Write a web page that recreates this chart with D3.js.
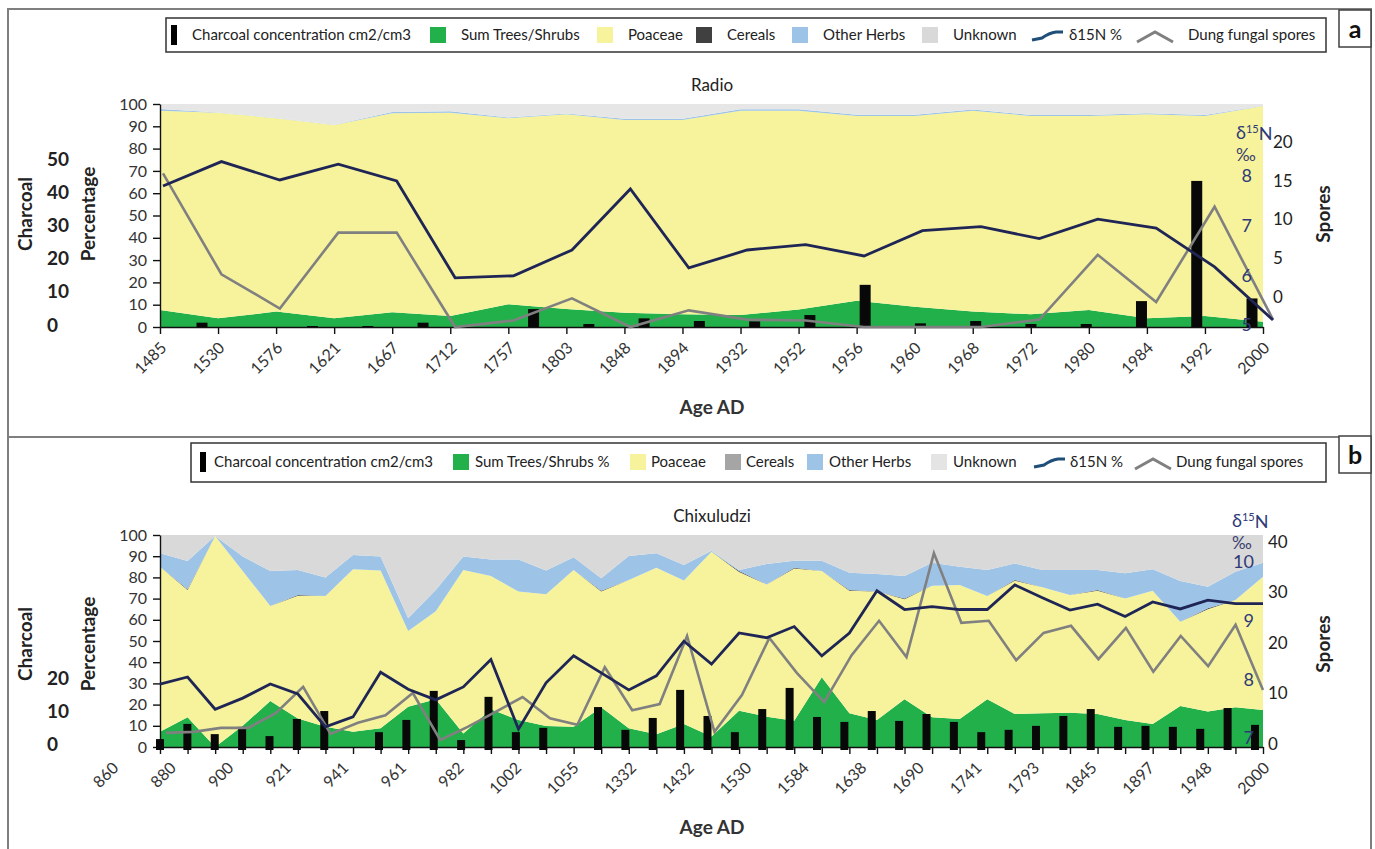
<!DOCTYPE html>
<html>
<head>
<meta charset="utf-8">
<script src="https://cdnjs.cloudflare.com/ajax/libs/d3/7.8.5/d3.min.js"></script>
<style>
body { margin: 0; background: #fff; }
svg { display: block; }
</style>
</head>
<body>
<script>
// ---------- panel a : Radio ----------
var radioAges = ["1485","1530","1576","1621","1667","1712","1757","1803","1848","1894","1932","1952","1956","1960","1968","1972","1980","1984","1992","2000"];
var radioTrees   = [7.6,3.9,6.9,3.9,6.6,4.9,10.2,8.1,6.4,5.7,5.4,7.9,11.8,9.1,6.9,5.7,7.6,3.9,4.9,2.4];
var radioPoaceae = [89.4,92.2,86.7,86.7,89.2,91.2,83.4,87.3,86.4,87.1,91.6,89.1,82.8,85.5,90.1,88.9,87.0,91.5,89.7,96.7];
var radioCereals = [0,0,0,0,0,0,0,0,0,0,0,0,0,0,0,0,0,0,0,0];
var radioHerbs   = [0.8,0.1,0.1,0.1,0.6,0.6,0.3,0.3,0.6,0.6,0.6,0.6,0.6,0.6,0.5,0.5,0.5,0.5,0.5,0.1];
var radioUnknown = [2.2,3.8,6.3,9.3,3.6,3.3,6.1,4.3,6.6,6.6,2.4,2.4,4.8,4.8,2.5,4.9,4.9,4.1,4.9,0.8];
var radioCharcoal = [1.3,0,0.3,0.3,1.3,0,5.4,0.9,2.6,1.8,1.7,3.6,12.7,1.1,1.8,0.9,0.9,7.8,44.0,8.6];
var radioD15N   = [7.80,8.29,7.92,8.24,7.90,5.95,5.99,6.51,7.74,6.15,6.51,6.62,6.39,6.90,6.98,6.74,7.13,6.95,6.17,5.10];
var radioSpores = [16.6,5.7,2.0,10.2,10.2,0,0.7,3.1,0,1.8,0.8,0.7,0,0,0,0.8,7.8,2.7,13.0,0.8];

// ---------- panel b : Chixuludzi ----------
var chixAgeLabels = ["860","880","900","921","941","961","982","1002","1055","1332","1432","1530","1584","1638","1690","1741","1793","1845","1897","1948","2000"];
var chixTrees   = [7.2,14.0,0,10.0,21.7,13.5,9.6,7.2,8.8,19.0,22.5,6.4,17.8,12.7,9.9,9.6,18.7,8.8,6.0,10.8,4.9,17.1,14.3,12.4,32.9,15.9,12.7,22.5,14.0,13.2,22.5,15.6,15.9,16.2,15.6,12.7,10.8,19.3,16.7,18.7,17.5];
var chixPoaceae = [77.8,60.0,99.5,73.0,44.8,57.8,61.6,76.6,74.4,35.7,41.5,77.1,62.9,60.6,62.1,73.9,54.6,70.0,78.6,67.7,87.2,65.5,62.4,71.8,50.1,57.8,60.6,47.2,62.1,63.2,48.7,62.8,59.4,55.5,58.1,57.4,62.9,39.8,48.3,50.6,62.8];
var chixCereals = [0,0.4,0,0,0,0.4,0,0,0,0,0,0,0,0,0,0,0.4,0,0,0,0,0.4,0,0.4,0,0.4,0,0.4,0,0,0,0.4,0,0,0.4,0,0,0,0.4,0,0];
var chixHerbs   = [6.4,13.3,0,6.8,16.5,11.8,8.8,6.8,6.6,6.0,10.0,6.3,7.8,15.2,11.2,6.0,5.9,11.3,6.8,7.3,0.5,0.5,9.6,3.3,4.9,8.1,8.3,10.6,10.8,8.6,12.3,7.8,8.2,11.8,9.4,11.8,10.1,19.2,10.2,13.4,6.6];
var chixUnknown = [8.6,12.3,0.5,10.2,17.0,16.5,20.0,9.4,10.2,39.3,26.0,10.2,11.5,11.5,16.8,10.5,20.4,9.9,8.6,14.2,7.4,16.5,13.7,12.1,12.1,17.8,18.4,19.3,13.1,15.0,16.5,13.4,16.5,16.5,16.5,18.1,16.2,21.7,24.4,17.3,13.1];
var chixCharcoal = [2.4,7.0,3.9,6.1,3.3,8.5,10.9,0,4.5,8.2,17.0,2.1,15.2,4.5,5.8,0,12.1,5.2,8.8,17.3,9.4,4.5,11.5,17.9,9.1,7.6,10.9,7.9,10.0,7.6,4.5,5.2,6.4,9.4,11.5,6.1,6.4,6.1,5.5,11.8,6.7];
var chixD15N   = [7.92,8.04,7.49,7.68,7.92,7.75,7.19,7.36,8.12,7.83,7.65,7.87,8.34,7.15,7.94,8.40,8.11,7.82,8.06,8.65,8.26,8.79,8.71,8.90,8.40,8.79,9.51,9.19,9.24,9.19,9.19,9.61,9.39,9.18,9.28,9.07,9.32,9.20,9.35,9.29,9.29];
var chixSpores = [2.2,2.4,3.2,3.2,6.1,11.3,2.0,4.2,5.7,10.1,0.8,3.4,6.3,9.3,5.1,3.8,15.2,6.7,7.9,21.4,2.4,9.7,21.0,14.1,8.3,17.6,24.4,17.2,37.8,24.0,24.4,16.6,22.0,23.4,16.8,23.0,14.3,21.4,15.4,23.6,10.7];

var legendLabelsA = ["Charcoal concentration cm2/cm3","Sum Trees/Shrubs","Poaceae","Cereals","Other Herbs","Unknown","δ15N %","Dung fungal spores"];
var legendLabelsB = ["Charcoal concentration cm2/cm3","Sum Trees/Shrubs %","Poaceae","Cereals","Other Herbs","Unknown","δ15N %","Dung fungal spores"];

var font = "Lato, 'Open Sans', sans-serif";
var green = "#22b04b", yellow = "#f7f39c", blue = "#9dc3e6", navy = "#1f2656", sporeGrey = "#808080", d15Label = "#2e3a78";
var keys = ["trees","poaceae","cereals","herbs","unknown"];

var svg = d3.select("body").append("svg")
    .attr("width", 1375)
    .attr("height", 849)
    .style("font-family", font);

//frame around both panels
svg.append("rect").attr("x", 8).attr("y", 9).attr("width", 1363).attr("height", 850)
    .attr("fill", "none").attr("stroke", "#7f7f7f").attr("stroke-width", 2);
svg.append("line").attr("x1", 8).attr("x2", 1371).attr("y1", 437).attr("y2", 437)
    .attr("stroke", "#7f7f7f").attr("stroke-width", 2);

var panelTag = function(letter, y)
{
    svg.append("rect").attr("x", 1339).attr("y", y).attr("width", 32).attr("height", 37)
        .attr("fill", "#fff").attr("stroke", "#404040").attr("stroke-width", 1.5);
    svg.append("text").attr("x", 1355).attr("y", y + 19).attr("dy", "0.35em")
        .attr("text-anchor", "middle").attr("font-size", 25).attr("font-weight", "bold")
        .attr("fill", "#111").text(letter);
}

var drawLegend = function(box, cy, items, labels)
{
    svg.append("rect").attr("x", box[0]).attr("y", box[1])
        .attr("width", box[2] - box[0]).attr("height", box[3] - box[1])
        .attr("fill", "#fff").attr("stroke", "#333").attr("stroke-width", 1.5);

    items.forEach(function(it, i)
    {
        if (it.kind == "bar")
        {
            svg.append("rect").attr("x", it.x).attr("y", cy - 10).attr("width", 6).attr("height", 20).attr("fill", "#000");
        }
        else if (it.kind == "sq")
        {
            svg.append("rect").attr("x", it.x).attr("y", cy - 8).attr("width", 16).attr("height", 16).attr("fill", it.color);
        }
        else if (it.kind == "d15n")
        {
            svg.append("path")
                .attr("d", "M" + it.x + "," + (cy + 5) + " L" + (it.x + 10) + "," + (cy + 3) + " Q" + (it.x + 17) + "," + (cy - 2) + " " + (it.x + 24) + "," + (cy - 3) + " L" + (it.x + 31) + "," + (cy - 3))
                .attr("fill", "none").attr("stroke", "#1f4e79").attr("stroke-width", 3);
        }
        else
        {
            svg.append("polyline")
                .attr("points", [[it.x, cy + 7], [it.x + 18, cy - 3], [it.x + 36, cy + 7]].join(" "))
                .attr("fill", "none").attr("stroke", sporeGrey).attr("stroke-width", 3);
        }
        svg.append("text").attr("x", it.tx).attr("y", cy).attr("dy", "0.35em")
            .attr("font-size", 15).attr("fill", "#222").text(labels[i]);
    });
}

// one stacked pollen diagram with charcoal bars and two line series
var drawPanel = function(p)
{
    var g = svg.append("g");
    var n = p.trees.length;
    var idx = d3.range(n);

    var rows = idx.map(function(i)
    {
        return {i: i, trees: p.trees[i], poaceae: p.poaceae[i], cereals: p.cereals[i], herbs: p.herbs[i], unknown: p.unknown[i]}
    });
    var series = d3.stack().keys(keys)(rows);

    //scales
    var xArea = d3.scalePoint().domain(idx).range([160, 1263]);
    var yPct = d3.scaleLinear().domain([0, 100]).range([p.bottom, p.top]);
    var xBar = d3.scalePoint().domain(idx).range(p.barRange);
    var yChar = d3.scaleLinear().domain(p.charDomain).range(p.charRange);
    var xD = d3.scalePoint().domain(idx).range(p.dRange);
    var yD = d3.scaleLinear().domain(p.dDomain).range(p.dPix);
    var xS = d3.scalePoint().domain(idx).range(p.sRange);
    var yS = d3.scaleLinear().domain(p.sDomain).range(p.sPix);
    // the printed spore axis sits a little off the plotted line in the source figure
    var ySAxis = d3.scaleLinear().domain(p.sDomain).range(p.sAxisPix);

    var area = d3.area()
        .x(function(d) { return xArea(d.data.i) })
        .y0(function(d) { return yPct(d[0]) })
        .y1(function(d) { return yPct(d[1]) });

    g.selectAll("path.layer")
        .data(series)
        .enter()
        .append("path")
        .attr("class", "layer")
        .attr("d", area)
        .attr("fill", function(d) { return p.fills[d.key] });

    //percentage axis
    var pctAxis = g.append("g")
        .attr("transform", "translate(160,0)")
        .call(d3.axisLeft(yPct).tickValues(d3.range(0, 101, 10)).tickSize(7).tickSizeOuter(0).tickPadding(6));
    pctAxis.attr("font-family", font).attr("font-size", 16);
    pctAxis.selectAll("text").attr("fill", "#333");
    pctAxis.selectAll("line,path").attr("stroke", "#111").attr("stroke-width", 1.4);

    //x axis with tick marks at each sample
    var tickScale = d3.scalePoint().domain(idx).range([160, 1263]);
    var xAxisG = g.append("g")
        .attr("transform", "translate(0," + p.bottom + ")")
        .call(d3.axisBottom(tickScale).tickSize(7).tickSizeOuter(0).tickFormat(""));
    xAxisG.selectAll("line,path").attr("stroke", "#111").attr("stroke-width", 1.4);

    var labScale = d3.scalePoint().domain(p.ageLabels).range(p.labelRange);
    var labG = g.append("g")
        .attr("transform", "translate(0," + p.bottom + ")")
        .call(d3.axisBottom(labScale).tickSize(0));
    labG.select(".domain").remove();
    labG.attr("font-family", font).attr("font-size", 16);
    labG.selectAll("text")
        .attr("x", 0).attr("y", 0).attr("dy", "0.35em")
        .attr("fill", "#333")
        .attr("transform", "translate(3,18) rotate(-45)")
        .style("text-anchor", "end");

    //charcoal bars
    g.selectAll("rect.bar")
        .data(p.charcoal.map(function(v, i) { return {i: i, v: v} }).filter(function(d) { return d.v > 0 }))
        .enter()
        .append("rect")
        .attr("class", "bar")
        .attr("x", function(d) { return xBar(d.i) - p.barW / 2 })
        .attr("y", function(d) { return yChar(d.v) })
        .attr("width", p.barW)
        .attr("height", function(d) { return yChar(0) - yChar(d.v) + p.barDrop })
        .attr("fill", "#080808");

    //lines
    var sLine = d3.line()
        .x(function(d, i) { return xS(i) })
        .y(function(d) { return yS(d) });
    g.append("path").datum(p.spores).attr("d", sLine)
        .attr("fill", "none").attr("stroke", sporeGrey).attr("stroke-width", 2.6);

    var dLine = d3.line()
        .x(function(d, i) { return xD(i) })
        .y(function(d) { return yD(d) });
    g.append("path").datum(p.d15n).attr("d", dLine)
        .attr("fill", "none").attr("stroke", navy).attr("stroke-width", 2.8);

    //charcoal labels (left, bold, left aligned)
    var charG = g.append("g")
        .attr("transform", "translate(47," + p.charShift + ")")
        .call(d3.axisLeft(yChar).tickValues(p.charTicks).tickSize(0));
    charG.select(".domain").remove();
    charG.attr("font-family", font).attr("font-size", 19).attr("font-weight", "bold");
    charG.selectAll("text").attr("x", 0).attr("fill", "#222").style("text-anchor", "start");

    //d15N labels inside the plot
    var dG = g.append("g")
        .attr("transform", "translate(" + p.dLabelX + ",0)")
        .call(d3.axisLeft(yD).tickValues(p.dTicks).tickSize(0).tickFormat(d3.format("d")));
    dG.select(".domain").remove();
    dG.attr("font-family", font).attr("font-size", 18);
    dG.selectAll("text").attr("x", 0).attr("fill", d15Label);

    var dTitle = g.append("text").attr("x", p.dTitleX).attr("y", p.dTitleY).attr("dy", "0.35em")
        .attr("font-size", 18).attr("fill", d15Label);
    dTitle.append("tspan").text("δ");
    dTitle.append("tspan").attr("font-size", 11).attr("dy", "-0.6em").text("15");
    dTitle.append("tspan").attr("dy", "0.4em").text("N");
    g.append("text").attr("x", p.dTitleX).attr("y", p.dTitleY + 22).attr("dy", "0.35em")
        .attr("font-size", 17).attr("fill", "#3a3f6e").text("‰");

    //spores axis labels (right)
    var sG = g.append("g")
        .attr("transform", "translate(" + p.sLabelX + ",0)")
        .call(d3.axisRight(ySAxis).tickValues(p.sTicks).tickSize(0));
    sG.select(".domain").remove();
    sG.attr("font-family", font).attr("font-size", 17);
    sG.selectAll("text").attr("x", 0).attr("fill", "#222");

    //titles
    g.append("text").attr("x", 712).attr("y", p.titleY).attr("dy", "0.35em")
        .attr("text-anchor", "middle").attr("font-size", 17).attr("fill", "#222").text(p.title);
    g.append("text").attr("x", 712).attr("y", p.ageY).attr("dy", "0.35em")
        .attr("text-anchor", "middle").attr("font-size", 19).attr("font-weight", "bold").attr("fill", "#333").text("Age AD");
    g.append("text").attr("transform", "translate(25," + p.midY + ") rotate(-90)").attr("dy", "0.35em")
        .attr("text-anchor", "middle").attr("font-size", 19).attr("font-weight", "bold").attr("fill", "#222").text("Charcoal");
    g.append("text").attr("transform", "translate(88," + p.midY + ") rotate(-90)").attr("dy", "0.35em")
        .attr("text-anchor", "middle").attr("font-size", 19).attr("font-weight", "bold").attr("fill", "#222").text("Percentage");
    g.append("text").attr("transform", "translate(1323," + p.midY + ") rotate(-90)").attr("dy", "0.35em")
        .attr("text-anchor", "middle").attr("font-size", 19).attr("font-weight", "bold").attr("fill", "#222").text("Spores");
}

drawPanel({
    title: "Radio", titleY: 85, ageY: 407, midY: 214,
    top: 104, bottom: 327,
    trees: radioTrees, poaceae: radioPoaceae, cereals: radioCereals, herbs: radioHerbs, unknown: radioUnknown,
    fills: {trees: green, poaceae: yellow, cereals: "#404040", herbs: blue, unknown: "#e7e6e6"},
    ageLabels: radioAges, labelRange: [160, 1263],
    charcoal: radioCharcoal, barRange: [202, 1252], barW: 11, barDrop: 0,
    charDomain: [0, 50], charRange: [327, 161], charTicks: [0, 10, 20, 30, 40, 50], charShift: -2,
    d15n: radioD15N, dRange: [163, 1273], dDomain: [5, 8], dPix: [325, 176], dTicks: [5, 6, 7, 8],
    dLabelX: 1252, dTitleX: 1236, dTitleY: 133,
    spores: radioSpores, sRange: [163, 1273], sDomain: [0, 20], sPix: [327, 142], sAxisPix: [297, 142],
    sTicks: [0, 5, 10, 15, 20], sLabelX: 1273
});

drawPanel({
    title: "Chixuludzi", titleY: 516, ageY: 827, midY: 644,
    top: 535, bottom: 747,
    trees: chixTrees, poaceae: chixPoaceae, cereals: chixCereals, herbs: chixHerbs, unknown: chixUnknown,
    fills: {trees: green, poaceae: yellow, cereals: "#4d4d4d", herbs: blue, unknown: "#d9d9d9"},
    ageLabels: chixAgeLabels, labelRange: [112, 1263],
    charcoal: chixCharcoal, barRange: [160, 1255], barW: 8, barDrop: 3,
    charDomain: [0, 20], charRange: [747, 681], charTicks: [0, 10, 20], charShift: -2.5,
    d15n: chixD15N, dRange: [160, 1263], dDomain: [7, 10], dPix: [738, 562], dTicks: [7, 8, 9, 10],
    dLabelX: 1254, dTitleX: 1232, dTitleY: 521,
    spores: chixSpores, sRange: [166, 1263], sDomain: [0, 40], sPix: [744, 542], sAxisPix: [744, 542],
    sTicks: [0, 10, 20, 30, 40], sLabelX: 1268
});

//legends
drawLegend([166, 18, 1326, 52], 35, [
    {kind: "bar", x: 171, tx: 192},
    {kind: "sq", x: 430, tx: 461, color: green},
    {kind: "sq", x: 597, tx: 628, color: yellow},
    {kind: "sq", x: 696, tx: 727, color: "#404040"},
    {kind: "sq", x: 792, tx: 823, color: blue},
    {kind: "sq", x: 922, tx: 953, color: "#d9d9d9"},
    {kind: "d15n", x: 1032, tx: 1069},
    {kind: "spores", x: 1137, tx: 1188}
], legendLabelsA);

drawLegend([191, 443, 1326, 482], 462, [
    {kind: "bar", x: 200, tx: 214},
    {kind: "sq", x: 453, tx: 475, color: green},
    {kind: "sq", x: 630, tx: 651, color: yellow},
    {kind: "sq", x: 725, tx: 746, color: "#a5a5a5"},
    {kind: "sq", x: 807, tx: 829, color: blue},
    {kind: "sq", x: 931, tx: 953, color: "#e4e4e4"},
    {kind: "d15n", x: 1034, tx: 1070},
    {kind: "spores", x: 1135, tx: 1176}
], legendLabelsB);

panelTag("a", 10);
panelTag("b", 436);
</script>
</body>
</html>
